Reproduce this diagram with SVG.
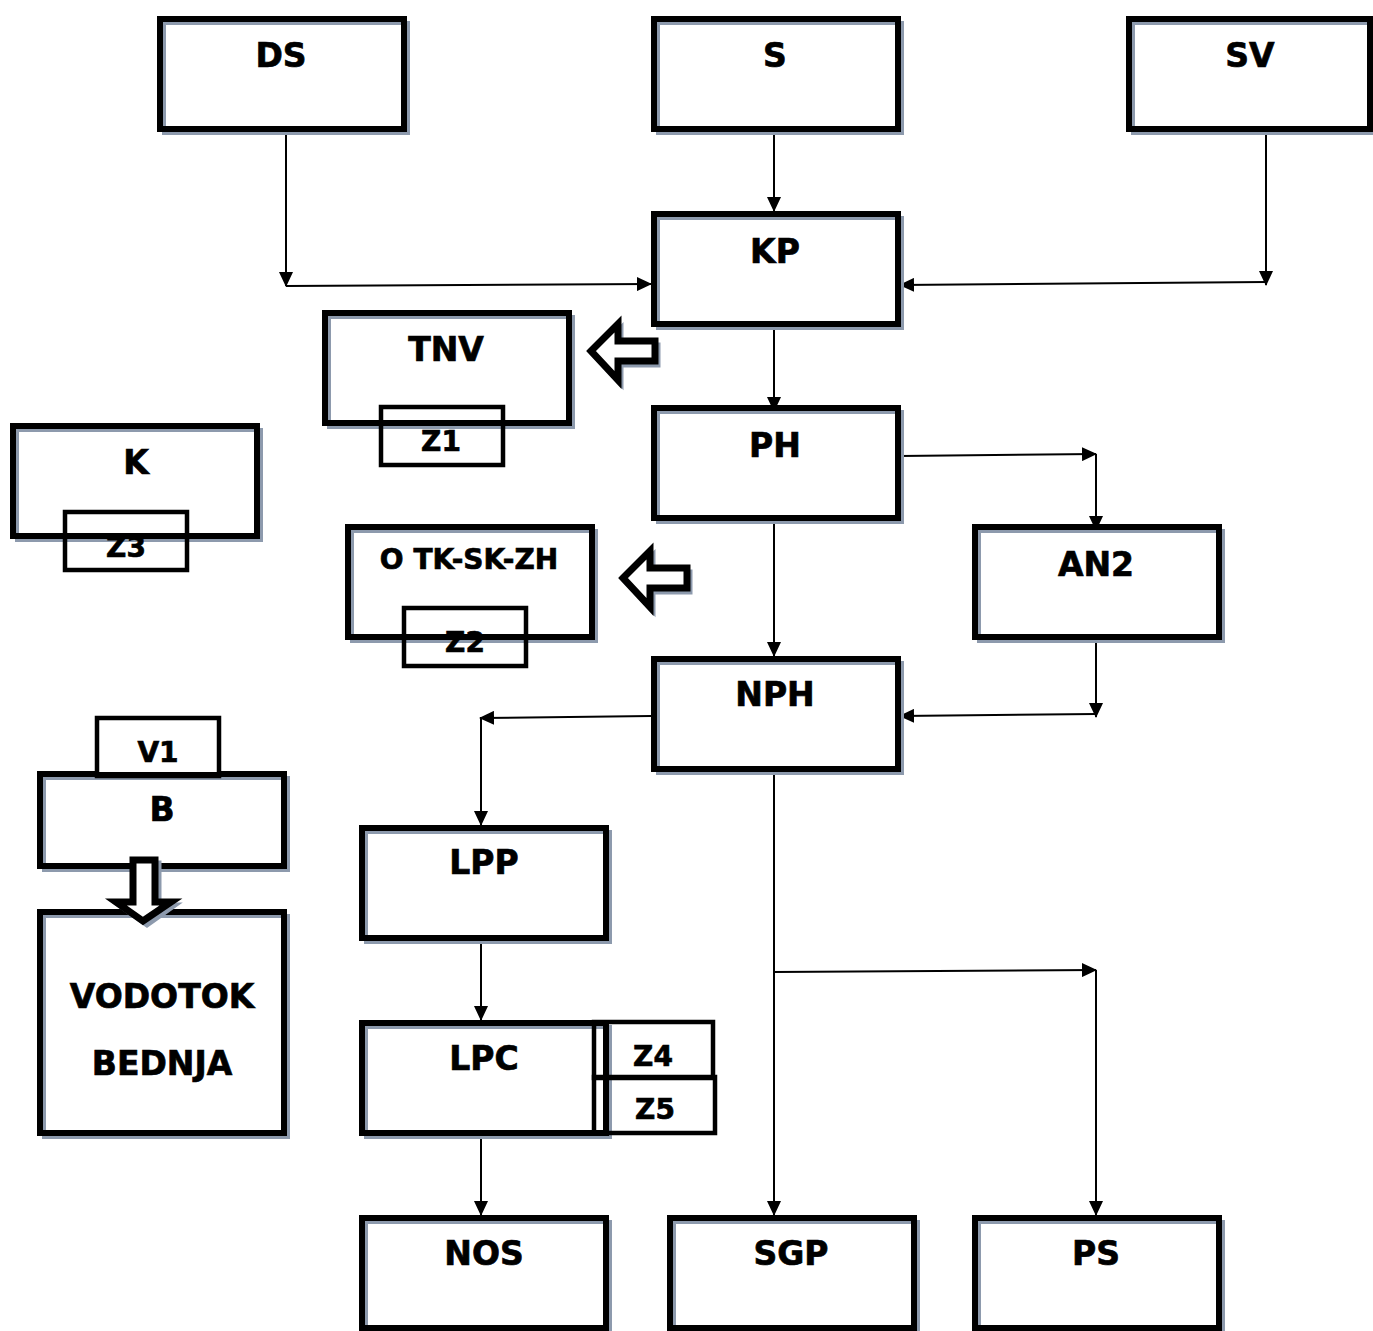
<svg xmlns="http://www.w3.org/2000/svg" width="1373" height="1331" viewBox="0 0 1373 1331">
<style>
.bg{fill:#fff;stroke:none}
.sh{fill:none;stroke:#8d9aad;stroke-width:4}
.bx{fill:none;stroke:#000;stroke-width:6}
.zb{fill:none;stroke:#000;stroke-width:4.5}
.t{font-family:"DejaVu Sans",Verdana,sans-serif;font-weight:bold;font-size:33px;text-anchor:middle;fill:#000;stroke:#000;stroke-width:0.7}
.ts{font-size:28px}
.c{fill:none;stroke:#000;stroke-width:2}
.ha{fill:#fff;stroke:#000;stroke-width:7;stroke-linejoin:miter}
.hs{fill:none;stroke:#8d9aad;stroke-width:5}
</style>
<defs>
<marker id="ar" markerUnits="userSpaceOnUse" markerWidth="16" markerHeight="14" refX="14" refY="7" orient="auto">
<path d="M0,0 L15,7 L0,14 Z" fill="#000"/>
</marker>
</defs>
<rect x="0" y="0" width="1373" height="1331" fill="#fff"/>

<g id="connectors">
<path class="c" d="M286,131 V286" marker-end="url(#ar)"/>
<path class="c" d="M286,286 L651,284" marker-end="url(#ar)"/>
<path class="c" d="M774,131 V211" marker-end="url(#ar)"/>
<path class="c" d="M1266,131 V285" marker-end="url(#ar)"/>
<path class="c" d="M1266,282 L900,285" marker-end="url(#ar)"/>
<path class="c" d="M774,327 V411" marker-end="url(#ar)"/>
<path class="c" d="M900,456 L1096,454" marker-end="url(#ar)"/>
<path class="c" d="M1096,454 V530" marker-end="url(#ar)"/>
<path class="c" d="M774,521 V656" marker-end="url(#ar)"/>
<path class="c" d="M1096,640 V717" marker-end="url(#ar)"/>
<path class="c" d="M1096,714 L900,716" marker-end="url(#ar)"/>
<path class="c" d="M651,716 L480,718" marker-end="url(#ar)"/>
<path class="c" d="M481,718 V825" marker-end="url(#ar)"/>
<path class="c" d="M481,941 V1020" marker-end="url(#ar)"/>
<path class="c" d="M481,1136 V1215" marker-end="url(#ar)"/>
<path class="c" d="M774,771 V1215" marker-end="url(#ar)"/>
<path class="c" d="M774,972 L1096,970" marker-end="url(#ar)"/>
<path class="c" d="M1096,970 V1215" marker-end="url(#ar)"/>
</g>

<g id="DS"><rect class="bg" x="160" y="19" width="244" height="110"/><rect class="sh" x="164" y="23" width="244" height="110"/><rect class="bx" x="160" y="19" width="244" height="110"/><text class="t" x="281" y="67">DS</text></g>
<g id="S"><rect class="bg" x="654" y="19" width="244" height="110"/><rect class="sh" x="658" y="23" width="244" height="110"/><rect class="bx" x="654" y="19" width="244" height="110"/><text class="t" x="775" y="67">S</text></g>
<g id="SV"><rect class="bg" x="1129" y="19" width="241" height="110"/><rect class="sh" x="1133" y="23" width="241" height="110"/><rect class="bx" x="1129" y="19" width="241" height="110"/><text class="t" x="1250" y="67">SV</text></g>
<g id="KP"><rect class="bg" x="654" y="214" width="244" height="110"/><rect class="sh" x="658" y="218" width="244" height="110"/><rect class="bx" x="654" y="214" width="244" height="110"/><text class="t" x="775" y="263">KP</text></g>
<g id="TNV"><rect class="bg" x="325" y="313" width="244" height="110"/><rect class="sh" x="329" y="317" width="244" height="110"/><rect class="bx" x="325" y="313" width="244" height="110"/><text class="t" x="446" y="361">TNV</text></g>
<g id="K"><rect class="bg" x="13" y="426" width="244" height="110"/><rect class="sh" x="17" y="430" width="244" height="110"/><rect class="bx" x="13" y="426" width="244" height="110"/><text class="t" x="136" y="474">K</text></g>
<g id="PH"><rect class="bg" x="654" y="408" width="244" height="110"/><rect class="sh" x="658" y="412" width="244" height="110"/><rect class="bx" x="654" y="408" width="244" height="110"/><text class="t" x="775" y="457">PH</text></g>
<g id="AN2"><rect class="bg" x="975" y="527" width="244" height="110"/><rect class="sh" x="979" y="531" width="244" height="110"/><rect class="bx" x="975" y="527" width="244" height="110"/><text class="t" x="1096" y="576">AN2</text></g>
<g id="OTK"><rect class="bg" x="348" y="527" width="244" height="110"/><rect class="sh" x="352" y="531" width="244" height="110"/><rect class="bx" x="348" y="527" width="244" height="110"/><text class="t ts" x="469" y="569">O TK-SK-ZH</text></g>
<g id="NPH"><rect class="bg" x="654" y="659" width="244" height="110"/><rect class="sh" x="658" y="663" width="244" height="110"/><rect class="bx" x="654" y="659" width="244" height="110"/><text class="t" x="775" y="706">NPH</text></g>
<g id="B"><rect class="bg" x="40" y="774" width="244" height="92"/><rect class="sh" x="44" y="778" width="244" height="92"/><rect class="bx" x="40" y="774" width="244" height="92"/><text class="t" x="162" y="821">B</text></g>
<g id="VODOTOK"><rect class="bg" x="40" y="912" width="244" height="221"/><rect class="sh" x="44" y="916" width="244" height="221"/><rect class="bx" x="40" y="912" width="244" height="221"/><text class="t" x="162" y="1008">VODOTOK</text><text class="t" x="162" y="1075">BEDNJA</text></g>
<g id="LPP"><rect class="bg" x="362" y="828" width="244" height="110"/><rect class="sh" x="366" y="832" width="244" height="110"/><rect class="bx" x="362" y="828" width="244" height="110"/><text class="t" x="484" y="874">LPP</text></g>
<g id="LPC"><rect class="bg" x="362" y="1023" width="244" height="110"/><rect class="sh" x="366" y="1027" width="244" height="110"/><rect class="bx" x="362" y="1023" width="244" height="110"/><text class="t" x="484" y="1070">LPC</text></g>
<g id="NOS"><rect class="bg" x="362" y="1218" width="244" height="110"/><rect class="sh" x="366" y="1222" width="244" height="110"/><rect class="bx" x="362" y="1218" width="244" height="110"/><text class="t" x="484" y="1265">NOS</text></g>
<g id="SGP"><rect class="bg" x="670" y="1218" width="244" height="110"/><rect class="sh" x="674" y="1222" width="244" height="110"/><rect class="bx" x="670" y="1218" width="244" height="110"/><text class="t" x="791" y="1265">SGP</text></g>
<g id="PS"><rect class="bg" x="975" y="1218" width="244" height="110"/><rect class="sh" x="979" y="1222" width="244" height="110"/><rect class="bx" x="975" y="1218" width="244" height="110"/><text class="t" x="1096" y="1265">PS</text></g>

<g id="Z1"><rect class="zb" x="381" y="407" width="122" height="58"/><text class="t ts" x="441" y="451">Z1</text></g>
<g id="Z3"><rect class="zb" x="65" y="512" width="122" height="58"/><text class="t ts" x="126" y="557">Z3</text></g>
<g id="Z2"><rect class="zb" x="404" y="608" width="122" height="58"/><text class="t ts" x="465" y="652">Z2</text></g>
<g id="V1"><rect class="bg" x="97" y="718" width="122" height="54"/><rect class="zb" x="97" y="718" width="122" height="58"/><text class="t ts" x="158" y="762">V1</text></g>
<g id="Z4"><rect class="zb" x="594" y="1022" width="119" height="56"/><text class="t ts" x="653" y="1066">Z4</text></g>
<g id="Z5"><rect class="zb" x="594" y="1077" width="121" height="56"/><text class="t ts" x="655" y="1119">Z5</text></g>

<g id="arrow1">
<path class="hs" d="M594,355 L621,328 L621,345 L658,345 L658,365 L621,365 L621,384 Z"/>
<path class="ha" d="M591,351 L618,324 L618,341 L655,341 L655,361 L618,361 L618,380 Z"/>
</g>
<g id="arrow2">
<path class="hs" d="M626,582 L653,555 L653,572 L690,572 L690,592 L653,592 L653,611 Z"/>
<path class="ha" d="M623,578 L650,551 L650,568 L687,568 L687,588 L650,588 L650,607 Z"/>
</g>
<g id="arrow3">
<path class="hs" d="M137,863 L159,863 L159,905 L175,905 L147,925 L119,905 L137,905 Z"/>
<path class="ha" d="M133,860 L155,860 L155,902 L171,902 L143,921 L116,902 L133,902 Z"/>
</g>
</svg>
